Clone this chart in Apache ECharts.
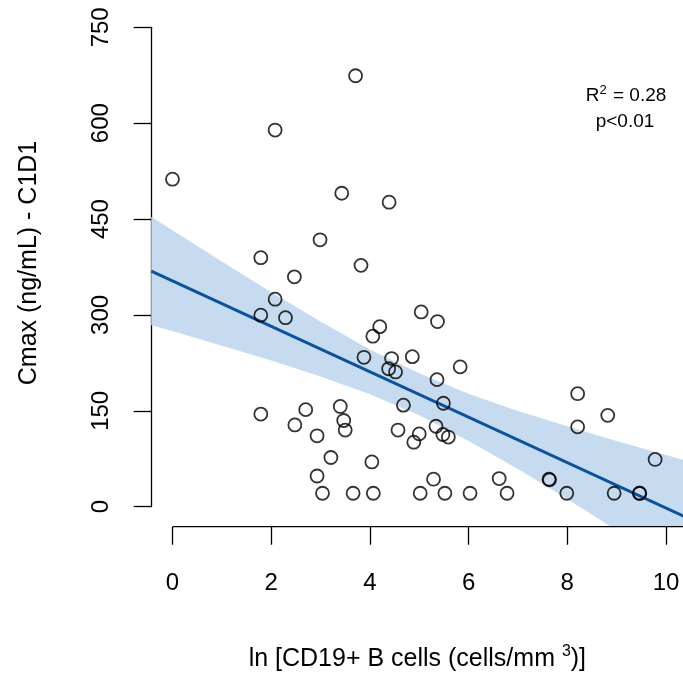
<!DOCTYPE html>
<html>
<head>
<meta charset="utf-8">
<script src="https://cdn.jsdelivr.net/npm/echarts@6/dist/echarts.min.js"></script>
<style>
html,body{margin:0;padding:0;background:#fff;}
#c{width:683px;height:677px;}
</style>
</head>
<body>
<div id="c"></div>
<script>
// ---- data ----
const xVals = [0.00, 2.08, 3.71, 3.43, 4.39, 1.79, 2.99, 3.82, 2.47, 2.08,
               1.79, 2.29, 4.20, 4.06, 5.04, 5.37, 3.88, 4.86, 4.44, 4.38,
               4.52, 5.83, 5.36, 5.49, 4.68, 1.79, 2.70, 3.40, 3.47, 3.50,
               2.48, 2.93, 4.57, 5.34, 5.00, 4.89, 5.48, 5.59, 3.21, 4.04,
               2.93, 5.29, 3.04, 3.66, 4.07, 5.02, 5.52, 6.03, 6.62, 6.78,
               7.64, 7.63, 7.99, 8.95, 9.46, 9.47, 8.21, 8.21, 8.82, 9.78];
const yVals = [512, 589, 674, 490, 476, 389, 417, 377, 359, 324,
               299, 295, 281, 266, 304, 289, 233, 234, 231, 215,
               210, 218, 198, 161, 158, 144, 151, 156, 134, 119,
               127, 110, 119, 125, 113, 100, 112, 108, 76, 69,
               47, 42, 20, 20, 20, 20, 20, 20, 43, 20,
               41, 42, 20, 20, 20, 20, 176, 124, 142, 73];
// regression line end points
const fitX = [-0.43, 10.36];
const fitY = [368, -16];
// confidence band (read at these x positions)
const bandX     = [-0.43, 0, 1, 2, 3, 4, 5, 6, 7, 8, 9, 10, 10.36];
const bandUpper = [453, 432, 383, 335, 289, 245, 208, 176, 149, 125, 102, 80, 72];
const bandLower = [283, 274, 251, 228, 203, 175, 142, 102, 58, 11, -38, -87, -104];
// axis ticks
const yTickMin = 0, yTickMax = 750, yTickStep = 150;
const xTickValues = [0, 2, 4, 6, 8, 10];
const xTitle = 'ln [CD19+ B cells (cells/mm {sup|3})]';
const yTitle = 'Cmax (ng/mL) - C1D1';
const statLines = ['R{sup|2} = 0.28', 'p<0.01'];

const FONT = '"Liberation Sans", Arial, sans-serif';
const chart = echarts.init(document.getElementById('c'), null, {renderer: 'canvas'});

const points = xVals.map((x, i) => [x, yVals[i]]);
const fit = fitX.map((x, i) => [x, fitY[i]]);
const band = bandX.map((x, i) => [x, bandLower[i], bandUpper[i]]);

const X_MIN = -0.421, X_MAX = 10.345;
const hidden = {axisLine:{show:false}, axisTick:{show:false}, axisLabel:{show:false}, splitLine:{show:false}};

chart.setOption({
  animation: false,
  backgroundColor: '#fff',
  grid: [
    {left: 151.7, right: 0, top: 0, bottom: 150.3},
    {left: 151.7, top: 27.3, height: 479.4, width: 10},
    {left: 151.7, right: 0, top: 516.7, bottom: 150.3}
  ],
  xAxis: [
    Object.assign({gridIndex: 0, type: 'value', min: X_MIN, max: X_MAX,
      name: xTitle, nameLocation: 'middle', nameGap: 118,
      nameTextStyle: {fontFamily: FONT, fontSize: 25, color: '#000',
        rich: {sup: {fontFamily: FONT, fontSize: 16, color: '#000', padding: [0, 0, 15, 0]}}}}, hidden),
    Object.assign({gridIndex: 1, type: 'value', show: false}, hidden),
    {gridIndex: 2, type: 'value', min: X_MIN, max: X_MAX,
      axisLine: {show: false},
      axisTick: {show: true, inside: false, length: 18, customValues: xTickValues, lineStyle: {color: '#000', width: 1.3}},
      axisLabel: {show: true, margin: 45, customValues: xTickValues, fontFamily: FONT, fontSize: 24, color: '#000'},
      splitLine: {show: false}}
  ],
  yAxis: [
    Object.assign({gridIndex: 0, type: 'value', min: -31.3, max: 792.7,
      name: yTitle, nameLocation: 'middle', nameGap: 110,
      nameTextStyle: {fontFamily: FONT, fontSize: 25, color: '#000'}}, hidden),
    {gridIndex: 1, type: 'value', min: yTickMin, max: yTickMax, interval: yTickStep,
      axisLine: {show: true, lineStyle: {color: '#000', width: 1.3}},
      axisTick: {show: true, inside: false, length: 18, lineStyle: {color: '#000', width: 1.3}},
      axisLabel: {show: true, rotate: 90, margin: 38, fontFamily: FONT, fontSize: 24, color: '#000'},
      splitLine: {show: false}},
    Object.assign({gridIndex: 2, type: 'value', show: false}, hidden)
  ],
  series: [
    {
      type: 'custom', xAxisIndex: 0, yAxisIndex: 0, clip: true, z: 1,
      data: band,
      renderItem: function (params, api) {
        if (params.dataIndex !== 0) return;
        const up = [], lo = [];
        for (let i = 0; i < band.length; i++) {
          up.push(api.coord([band[i][0], band[i][2]]));
          lo.push(api.coord([band[i][0], band[i][1]]));
        }
        return {type: 'polygon', shape: {points: up.concat(lo.reverse())},
                style: {fill: '#c6dbef', stroke: null}};
      }
    },
    {
      type: 'line', xAxisIndex: 0, yAxisIndex: 0, data: fit, symbol: 'none', z: 2,
      lineStyle: {color: '#0b529d', width: 3}, clip: true
    },
    {
      type: 'scatter', xAxisIndex: 0, yAxisIndex: 0, data: points, symbol: 'circle', symbolSize: 13, z: 3,
      itemStyle: {color: 'rgba(0,0,0,0)', borderColor: '#000', borderWidth: 1.8}
    },
    {
      // x axis line from first tick to right edge
      type: 'line', xAxisIndex: 2, yAxisIndex: 2, symbol: 'none', silent: true, z: 4,
      data: [[xTickValues[0], 0], [X_MAX, 0]],
      lineStyle: {color: '#000', width: 1.3}, clip: false
    }
  ],
  graphic: [
    {type: 'text', x: 626, y: 96, style: {text: statLines[0], fontFamily: FONT, fontSize: 19, fill: '#000', align: 'center', verticalAlign: 'middle',
      rich: {sup: {fontFamily: FONT, fontSize: 13, fill: '#000', padding: [0, 1, 12, 0]}}}},
    {type: 'text', x: 625, y: 122, style: {text: statLines[1], fontFamily: FONT, fontSize: 19, fill: '#000', align: 'center', verticalAlign: 'middle'}}
  ]
});
</script>
</body>
</html>
